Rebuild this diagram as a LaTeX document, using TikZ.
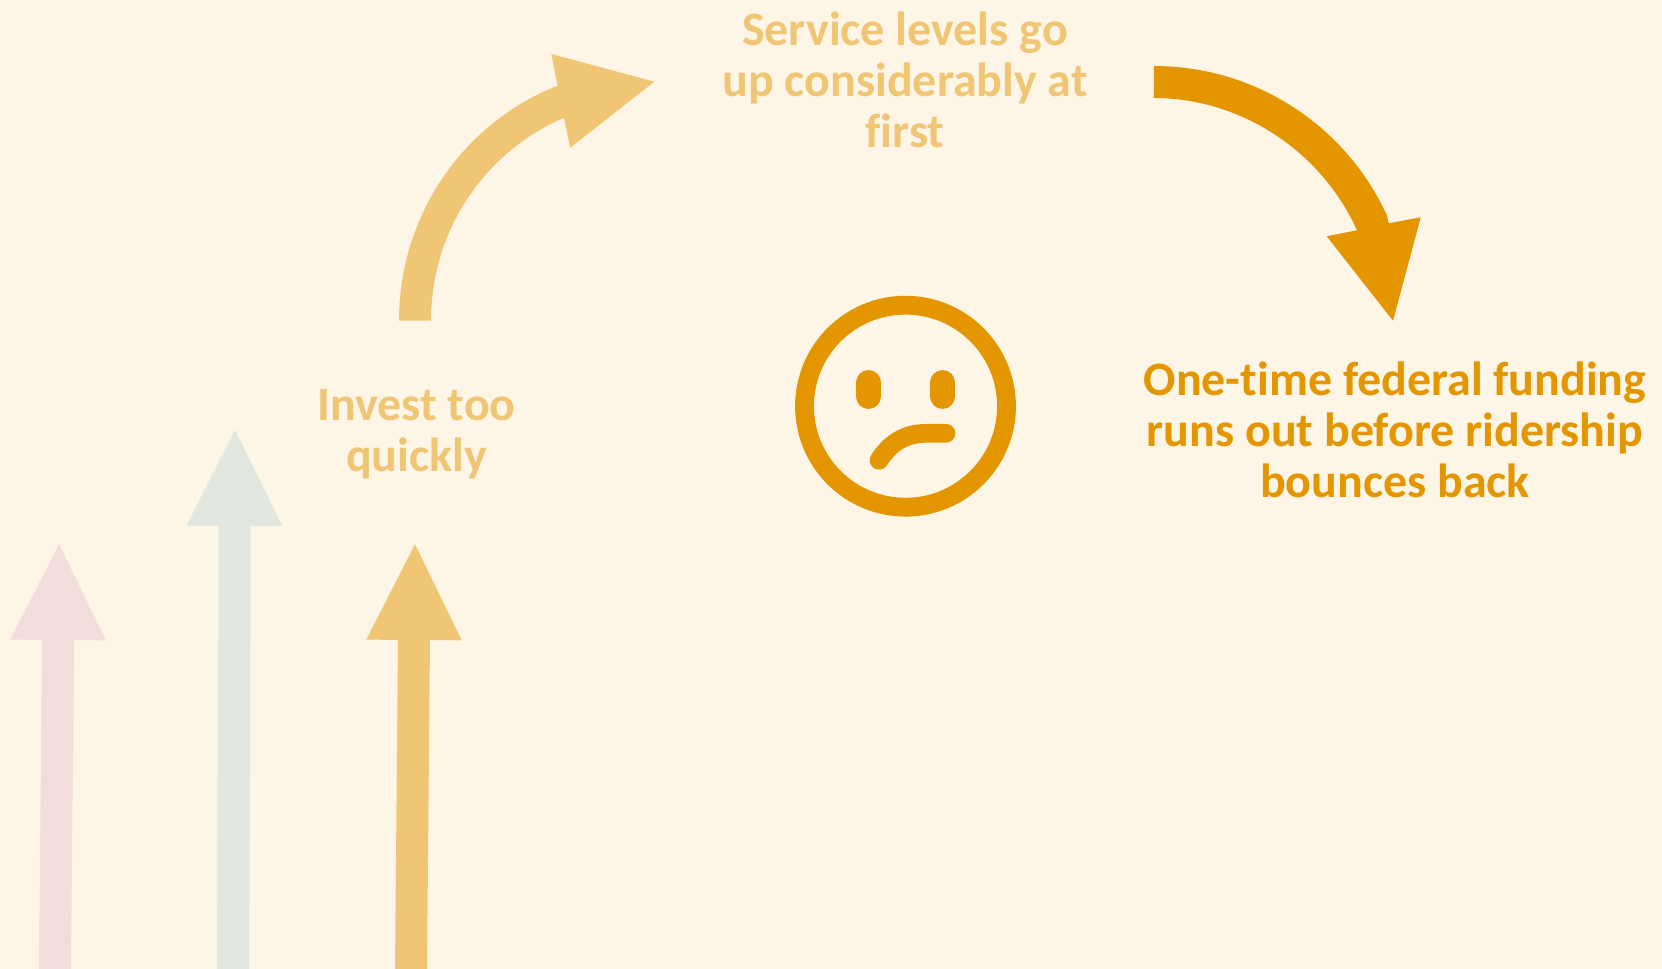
\documentclass[tikz,border=0pt]{standalone}
\usepackage{fontspec}
\usepackage{xcolor}
\setmainfont[Ligatures=NoCommon]{Carlito}
\usetikzlibrary{positioning}
\definecolor{cBack}{RGB}{253,245,230}
\definecolor{cAmber}{RGB}{227,150,0}
\definecolor{cAmberLt}{RGB}{240,197,116}
\definecolor{cRose}{RGB}{243,221,220}
\definecolor{cSage}{RGB}{225,230,223}
\tikzset{
	steptxt/.style ={align=center, font=\fontsize{27.3}{29}\selectfont\bfseries, inner sep=0pt},
	ringface/.style={draw=cAmber, line width=0.376cm},
	eyeface/.style ={draw=cAmber, line width=0.506cm, line cap=round},
	mouthface/.style={draw=cAmber, line width=0.374cm, line cap=round},
}

\begin{document}
\begin{tikzpicture}[x=0.02cm, y=-0.02cm]
	\fill[cBack] (0,0) rectangle (1662,969);
	\useasboundingbox (0,0) rectangle (1662,969);
	% straight arrows, bottom left
	\fill[cRose] (39,969) -- (42,639.9) -- (10.3,639.6) -- (59,544.3) -- (106,640.3) -- (74,640.1) -- (71,969) -- cycle;
	\fill[cSage] (217,969) -- (218.7,525.7) -- (186.7,525.5) -- (235,430) -- (282.3,526) -- (250.7,525.9) -- (249,969) -- cycle;
	\fill[cAmberLt] (395,969) -- (398,639.9) -- (366.3,639.6) -- (415,544.3) -- (461.7,640.3) -- (430,640.1) -- (427,969) -- cycle;
	% curved arrows
	\fill[cAmberLt] (399,320.7) .. controls (399,218.5) and (459.6,126.6) .. (553,87.5) -- (557.7,86) -- (551.3,54) -- (654.3,81.7) -- (570.3,147.7) -- (564,117.7) .. controls (482.7,153) and (431,232) .. (431,320.7) -- cycle;
	\fill[cAmber] (1154,66) .. controls (1254,66) and (1344.9,124.2) .. (1386.7,215) -- (1388.7,223.3) -- (1420.7,217.3) -- (1393,320.7) -- (1326.7,236.3) -- (1357,230.3) .. controls (1321.2,151) and (1241,98) .. (1153.7,98) -- cycle;
	% labels
	\node[steptxt, text=cAmberLt] (invest) at (416.5,434) {Invest too\\quickly};
	\node[steptxt, text=cAmberLt] (service) at (905,80) {Service levels go\\up considerably at\\first};
	\node[steptxt, text=cAmber] (funding) at (1395,429.5) {One-time federal funding\\runs out before ridership\\bounces back};
	% sad face
	\draw[ringface] (905.5,406.2) circle (101);
	\draw[eyeface] (868.7,382.7) -- (868.7,396.3);
	\draw[eyeface] (942.7,382.7) -- (942.7,396.3);
	\draw[mouthface] (946,433.3) -- (926.7,433.3) .. controls (905,433.3) and (890,443) .. (879,460.3);
\end{tikzpicture}
\end{document}
